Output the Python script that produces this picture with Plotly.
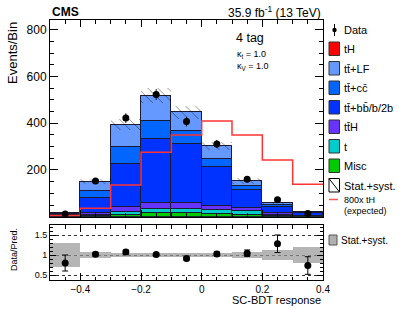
import plotly.graph_objects as go

# ---------------- data ----------------
bin_edges = [-0.5, -0.4, -0.3, -0.2, -0.1, 0.0, 0.1, 0.2, 0.3, 0.4]
bin_centers = [-0.45, -0.35, -0.25, -0.15, -0.05, 0.05, 0.15, 0.25, 0.35]

misc = [0.5, 3, 8, 15, 15, 10, 8, 4, 1]
single_t = [0.5, 4, 13, 18, 18, 19, 16, 5, 2]
tth = [1, 8, 19, 27, 27, 18, 12, 6, 2]
ttbb = [6, 64, 184, 273, 250, 164, 78, 25, 10]
ttcc = [3, 32, 73, 78, 58, 36, 17, 10, 2]
ttlf = [4, 39, 96, 107, 79, 56, 22, 7, 2]
th_800x = [5, 36, 136, 276, 350, 410, 350, 243, 139]
th = [v / 800 for v in th_800x]

data = [12, 153, 422, 523, 407, 311, 160, 73, 14]
data_err = [3.5, 12.4, 20.5, 22.9, 20.2, 17.6, 12.6, 8.5, 3.7]
ratio_err = [0.2, 0.05, 0.05, 0.04, 0.04, 0.05, 0.08, 0.22, 0.22]
unc_rel = [0.29, 0.065, 0.06, 0.06, 0.06, 0.06, 0.075, 0.125, 0.2]

FONT = "Liberation Sans, Arial, Helvetica, sans-serif"

# stack (bottom -> top)
layers = [
    ("Misc", misc, "#00cc00"),
    ("t", single_t, "#00cccc"),
    ("tt̄H", tth, "#6633ff"),
    ("tt̄+bb̄/b/2b", ttbb, "#0033ff"),
    ("tt̄+cc̄", ttcc, "#0066ff"),
    ("tt̄+LF", ttlf, "#6699ff"),
    ("tH", th, "#ff0000"),
]

cum = []
run = [0.0] * len(bin_centers)
for name, vals, col in layers:
    run = [a + b for a, b in zip(run, vals)]
    cum.append((name, list(run), col))

total = [sum(v) for v in zip(misc, single_t, tth, ttbb, ttcc, ttlf)]
ratio = [d / t for d, t in zip(data, total)]

fig = go.Figure()

# stacked bars drawn top layer first (overlay mode)
for name, vals, col in reversed(cum):
    fig.add_trace(go.Bar(
        x=bin_centers, y=vals, width=0.1, marker_color=col,
        marker_line=dict(color="#1a1a33", width=1), opacity=1,
        showlegend=False, xaxis="x", yaxis="y", hoverinfo="skip"))

# hatched uncertainty band
fig.add_trace(go.Bar(
    x=bin_centers, y=[2 * t * u for t, u in zip(total, unc_rel)],
    base=[t * (1 - u) for t, u in zip(total, unc_rel)], width=0.1,
    marker=dict(color="rgba(0,0,0,0)", line=dict(width=0),
                pattern=dict(shape="\\", fgcolor="black", bgcolor="rgba(0,0,0,0)",
                             size=7, solidity=0.12, fillmode="overlay")),
    showlegend=False, xaxis="x", yaxis="y", hoverinfo="skip"))

# 800x tH step line
fig.add_trace(go.Scatter(
    x=bin_edges, y=th_800x + [th_800x[-1]], mode="lines", line_shape="hv",
    line=dict(color="#ff3333", width=1.5), showlegend=False, xaxis="x", yaxis="y"))

# data points
fig.add_trace(go.Scatter(
    x=bin_centers, y=data, mode="markers",
    marker=dict(color="black", size=7),
    error_y=dict(type="data", array=data_err, color="black", thickness=1, width=0),
    showlegend=False, xaxis="x", yaxis="y"))

# ratio band
fig.add_trace(go.Bar(
    x=bin_centers, y=[2 * u for u in unc_rel], base=[1 - u for u in unc_rel], width=0.1,
    marker=dict(color="rgba(150,150,150,0.7)", line=dict(width=0)), opacity=1,
    showlegend=False, xaxis="x2", yaxis="y2", hoverinfo="skip"))

fig.add_trace(go.Scatter(
    x=bin_centers, y=ratio, mode="markers",
    marker=dict(color="black", size=7),
    error_y=dict(type="data", array=ratio_err, color="black", thickness=1, width=3),
    showlegend=False, xaxis="x2", yaxis="y2"))

W, H = 399, 309
ML, MR, MT, MB = 50, 76, 20, 29


def px(x):
    return (x - ML) / (W - ML - MR)


def py(y):
    return (H - MB - y) / (H - MT - MB)


axis_common = dict(showline=True, linecolor="black", linewidth=1, mirror="ticks",
                   ticks="inside", tickcolor="black", zeroline=False,
                   tickfont=dict(family=FONT, size=12, color="black"))

fig.update_layout(
    width=W, height=H, margin=dict(l=ML, r=MR, t=MT, b=MB, autoexpand=False),
    paper_bgcolor="white", plot_bgcolor="white", barmode="overlay", bargap=0,
    showlegend=False, font=dict(family=FONT, color="black"),
    xaxis=dict(**axis_common, range=[-0.5, 0.4], dtick=0.2, tick0=0, ticklen=7,
               showticklabels=False, showgrid=False, anchor="y",
               minor=dict(dtick=0.05, ticklen=3.5, ticks="inside", tickcolor="black")),
    yaxis=dict(**axis_common, range=[0, 842], domain=[py(216.7), 1.0],
               tickvals=[200, 400, 600, 800], ticklen=8, showgrid=False, anchor="x",
               minor=dict(dtick=50, ticklen=4, ticks="inside", tickcolor="black")),
    xaxis2=dict(**axis_common, range=[-0.5, 0.4], dtick=0.2, tick0=0, ticklen=7,
                showgrid=False, anchor="y2", matches="x",
                minor=dict(dtick=0.05, ticklen=3.5, ticks="inside", tickcolor="black")),
    yaxis2=dict(**axis_common, range=[0.375, 1.75], domain=[0, py(225)],
                tickvals=[0.5, 1, 1.5], ticktext=["0.5", "1", "1.5"], ticklen=6,
                showgrid=True, griddash="dot", gridcolor="#333333", gridwidth=1,
                anchor="x2",
                minor=dict(dtick=0.1, ticklen=3, ticks="inside", tickcolor="black")),
)
fig.update_layout(yaxis2_tickfont=dict(family=FONT, size=9, color="black"),
                  xaxis2_tickfont=dict(family=FONT, size=10, color="black"))

ann = []


def text(x, y, s, size, xanchor="left", angle=0, yanchor="middle"):
    ann.append(dict(xref="paper", yref="paper", x=px(x), y=py(y), text=s, showarrow=False,
                    xanchor=xanchor, yanchor=yanchor, textangle=angle,
                    font=dict(family=FONT, size=size, color="black")))


text(50, 12, "<b>CMS</b>", 12)
text(323, 12, "35.9 fb<sup>-1</sup> (13 TeV)", 12, xanchor="right")
text(234, 38, "4 tag", 12.5)
text(235, 55, "κ<sub>t</sub> = 1.0", 9)
text(235, 66, "κ<sub>V</sub> = 1.0", 9)
text(12, 20, "Events/Bin", 13, xanchor="center", angle=-90, yanchor="top")
text(14, 250, "Data/Pred.", 9, xanchor="center", angle=-90)
text(323, 300, "SC-BDT response", 11, xanchor="right")

shapes = []

# legend: Data
shapes.append(dict(type="line", xref="paper", yref="paper", x0=px(334.5), x1=px(334.5),
                   y0=py(24), y1=py(36), line=dict(color="black", width=1)))
shapes.append(dict(type="circle", xref="paper", yref="paper", x0=px(332.3), x1=px(336.7),
                   y0=py(32.2), y1=py(27.8), fillcolor="black", line=dict(color="black", width=0)))
text(342, 30, "Data", 11)

legend_items = [
    ("tH", "#ff0000"), ("tt̄+LF", "#6699ff"), ("tt̄+cc̄", "#0066ff"),
    ("tt̄+bb̄/b/2b", "#0033ff"), ("tt̄H", "#6633ff"), ("t", "#00cccc"), ("Misc", "#00cc00"),
]
for i, (lab, col) in enumerate(legend_items):
    y0 = 42 + 19.5 * i
    shapes.append(dict(type="rect", xref="paper", yref="paper", x0=px(329), x1=px(339.5),
                       y0=py(y0), y1=py(y0 + 13.5), fillcolor=col,
                       line=dict(color="#333333", width=1)))
    text(342, y0 + 7, lab, 11)

# Stat.+syst. hatched box
y0 = 42 + 19.5 * 7
shapes.append(dict(type="rect", xref="paper", yref="paper", x0=px(329), x1=px(339.5),
                   y0=py(y0), y1=py(y0 + 13.5), fillcolor="white",
                   line=dict(color="black", width=1)))
shapes.append(dict(type="line", xref="paper", yref="paper", x0=px(329), x1=px(339.5),
                   y0=py(y0), y1=py(y0 + 13.5), line=dict(color="black", width=1)))
text(342, y0 + 7, "Stat.+syst.", 11)

# 800x tH line
shapes.append(dict(type="line", xref="paper", yref="paper", x0=px(329), x1=px(338),
                   y0=py(199.5), y1=py(199.5), line=dict(color="#ff5555", width=1.5)))
text(342, 200, "800x tH", 9)
text(342, 211, "(expected)", 9)

# ratio legend
shapes.append(dict(type="rect", xref="paper", yref="paper", x0=px(329), x1=px(337),
                   y0=py(235), y1=py(245), fillcolor="rgba(150,150,150,0.75)",
                   line=dict(color="#555555", width=1)))
text(339, 240, "Stat.+syst.", 10)

fig.update_layout(annotations=ann, shapes=shapes)

fig.write_html("out.html", config={"displayModeBar": False},
               post_script="document.body.style.margin='0';")
